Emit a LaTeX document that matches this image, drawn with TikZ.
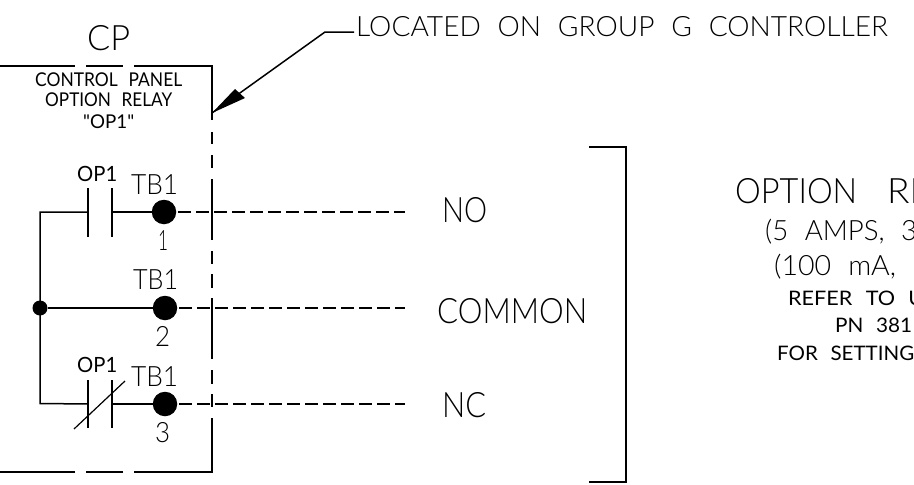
\documentclass[tikz,border=0pt]{standalone}
\usepackage{fontspec}
\usepackage{graphicx}
\setmainfont{Liberation Sans}
\newfontfamily\thinf[WordSpace=2.2]{Lato Light}
\newfontfamily\regf[WordSpace=2.4]{Lato}
\tikzset{
  x=1pt,y=-1pt,
  wire/.style={line width=1.5pt,line cap=butt,line join=miter},
  plate/.style={line width=1.2pt},
  dashw/.style={line width=1.2pt,dash pattern=on 13pt off 5pt,shorten <=2pt},
  term/.style={circle,fill=black,inner sep=0pt,minimum size=24.5pt},
  jct/.style={circle,fill=black,inner sep=0pt,minimum size=15pt},
  txt/.style={inner sep=0pt,anchor=base west},
}
\newcommand{\T}[3]{\resizebox{#2pt}{\height}{\fontsize{#1}{#1}\thinf #3}}
\newcommand{\R}[3]{\resizebox{#2pt}{\height}{\fontsize{#1}{#1}\regf #3}}
\begin{document}
\begin{tikzpicture}
\useasboundingbox (0,0) rectangle (914,485);
\coordinate (bTL) at (0,66); \coordinate (bTR) at (212,66);
\coordinate (a1) at (75,66); \coordinate (a2) at (86,66); \coordinate (a3) at (123,66); \coordinate (a4) at (134,66);
\coordinate (arrTip) at (212,113);
\coordinate (elbow) at (325,32); \coordinate (elbowEnd) at (354,32);
\draw[wire] (bTL) -- (a1); \draw[wire] (a2) -- (a3);
\draw[wire] (a4) -- (bTR) -- (212,120);
\draw[wire] (212,132) -- (212,144); \draw[wire] (212,155) -- (212,168);
\draw[wire] (212,179) -- (212,240); \draw[wire] (212,251) -- (212,264);
\draw[wire] (212,274) -- (212,288); \draw[wire] (212,298) -- (212,359);
\draw[wire] (212,370) -- (212,384); \draw[wire] (212,394) -- (212,407);
\draw[wire] (212,418) -- (212,472) -- (134,472);
\draw[wire] (123,472) -- (86,472); \draw[wire] (75,472) -- (0,472);
\draw[wire] (elbowEnd) -- (elbow) -- (arrTip);
\fill (arrTip) -- (235,89) -- (245,98) -- cycle;
\node[term] (t1) at (164,212) {};
\node[term] (t2) at (165,308) {};
\node[term] (t3) at (165,404) {};
\node[jct] (j) at (40,308) {};
\coordinate (n1) at (405,212); \coordinate (n2) at (405,308); \coordinate (n3) at (405,404);
\coordinate (c1) at (88,212); \coordinate (c1r) at (112,212);
\coordinate (c3) at (88,404); \coordinate (c3r) at (112,404);
\draw[wire] (c1) -- (40,212) -- (40,403.5) -- (c3);
\draw[wire] (c1r) -- (t1);
\draw[wire] (j) -- (t2);
\draw[wire] (c3r) -- (t3);
\draw[plate] (88,188) -- (88,237); \draw[plate] (112,188) -- (112,237);
\draw[plate] (88,380) -- (88,428); \draw[plate] (112,380) -- (112,428);
\draw[plate] (74,429) -- (125,381);
\draw[dashw] (t1) -- (n1); \draw[dashw] (t2) -- (n2); \draw[dashw] (t3) -- (n3);
\draw[wire] (589,147) -- (626,147) -- (626,482) -- (589,482);
\node[txt] (tCP) at (87,50) {\T{35}{43}{CP}};
\node[txt] (tL) at (356,36) {\T{28}{532}{LOCATED ON GROUP G CONTROLLER}};
\node[txt] (tC) at (35,86) {\R{19}{147}{CONTROL PANEL}};
\node[txt] (tO) at (45,106) {\R{19}{127}{OPTION RELAY}};
\node[txt] (tQ) at (83,128) {\R{19}{51}{"OP1"}};
\node[txt] (o1) at (77,181) {\R{21}{40}{OP1}};
\node[txt] (b1) at (131,194) {\T{28}{47}{TB1}};
\node[txt] (d1) at (158,250) {\T{28}{10}{1}};
\node[txt] (b2) at (133,289) {\T{28}{45}{TB1}};
\node[txt] (d2) at (155,346) {\T{28}{15}{2}};
\node[txt] (o3) at (77,372) {\R{21}{40}{OP1}};
\node[txt] (b3) at (131,386) {\T{28}{47}{TB1}};
\node[txt] (d3) at (155,442) {\T{28}{15}{3}};
\node[txt] (lNO) at (442,222) {\T{35}{45}{NO}};
\node[txt] (lCM) at (437,323) {\T{35}{150}{COMMON}};
\node[txt] (lNC) at (442,417) {\T{35}{44}{NC}};
\node[txt] (r1) at (735,203) {\T{35}{122}{OPTION}\hspace{30pt}\T{35}{44}{RE}};
\node[txt] (r2) at (765,240) {\T{28}{152}{(5 AMPS, 3}};
\node[txt] (r3) at (774,275) {\T{28}{122}{(100 mA,}};
\node[txt] (r4) at (788,305) {\R{20}{136}{REFER TO U}};
\node[txt] (r5) at (835,332) {\R{20}{77}{PN 381}};
\node[txt] (r6) at (777,360) {\R{20}{137}{FOR SETTING}};
\end{tikzpicture}
\end{document}
